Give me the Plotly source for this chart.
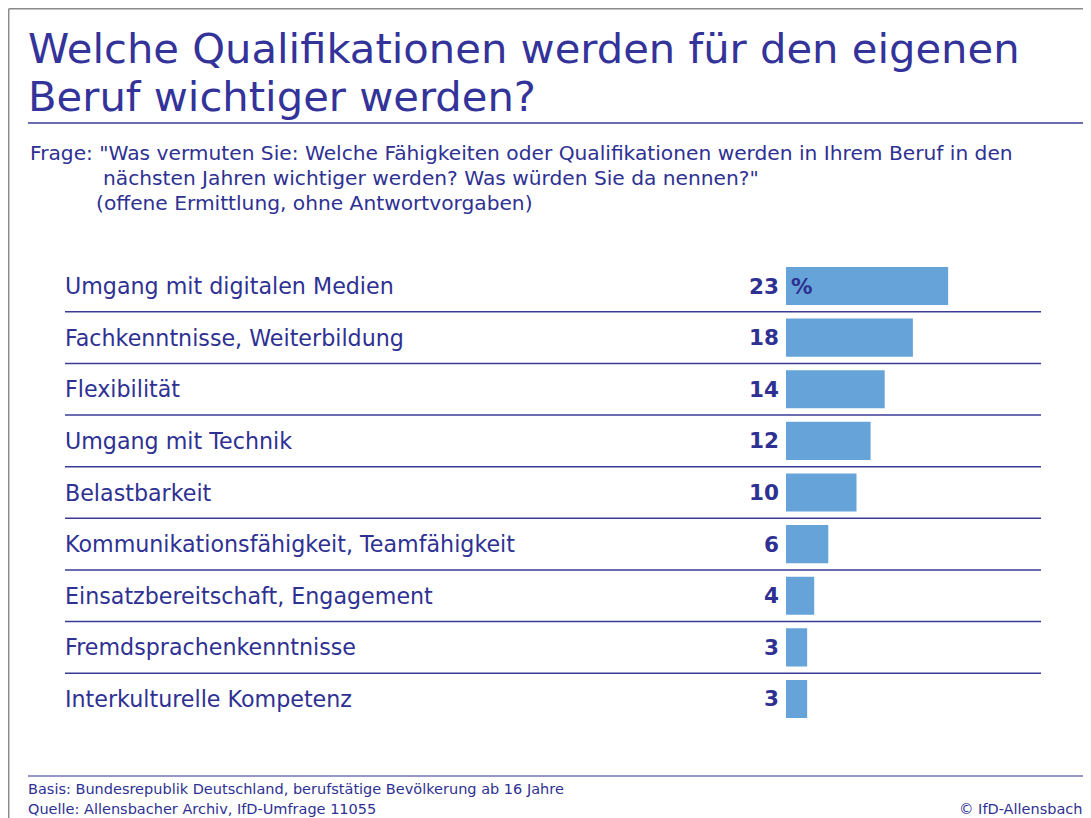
import plotly.graph_objects as go

categories = [
    "Umgang mit digitalen Medien",
    "Fachkenntnisse, Weiterbildung",
    "Flexibilität",
    "Umgang mit Technik",
    "Belastbarkeit",
    "Kommunikationsfähigkeit, Teamfähigkeit",
    "Einsatzbereitschaft, Engagement",
    "Fremdsprachenkenntnisse",
    "Interkulturelle Kompetenz",
]
values = [23, 18, 14, 12, 10, 6, 4, 3, 3]

title_lines = ["Welche Qualifikationen werden für den eigenen", "Beruf wichtiger werden?"]
question_lines = [
    'Frage: "Was vermuten Sie: Welche Fähigkeiten oder Qualifikationen werden in Ihrem Beruf in den',
    'nächsten Jahren wichtiger werden? Was würden Sie da nennen?"',
    '(offene Ermittlung, ohne Antwortvorgaben)',
]
basis = "Basis: Bundesrepublik Deutschland, berufstätige Bevölkerung ab 16 Jahre"
quelle = "Quelle: Allensbacher Archiv, IfD-Umfrage 11055"
copyright_txt = "© IfD-Allensbach"

OFF = 8  # page body margin
W, H = 1091 - OFF, 818 - OFF
TXT = "#2E3192"
BAR = "#65A3D8"
LINE = "#3B3B96"
FONT = "DejaVu Sans"


def px(x):
    return (x - OFF) / W


def py(y):
    return 1 - (y - OFF) / H


fig = go.Figure()
fig.add_trace(go.Bar(
    x=values, y=categories, orientation="h",
    marker=dict(color=BAR, line=dict(width=0)),
    width=0.74, hoverinfo="skip",
))

row_top, row_bot = 260.2, 724.8
x0_px, x1_px = 786, 1041
scale = 7.05

fig.update_layout(
    width=W, height=H,
    margin=dict(l=0, r=0, t=0, b=0),
    paper_bgcolor="white", plot_bgcolor="white",
    showlegend=False,
    font=dict(family=FONT, color=TXT),
    xaxis=dict(domain=[px(x0_px), px(x1_px)], range=[0, (x1_px - x0_px) / scale],
               visible=False, fixedrange=True),
    yaxis=dict(domain=[py(row_bot), py(row_top)], range=[len(categories) - 0.5, -0.5],
               visible=False, fixedrange=True),
)

ann = []
shapes = []

# frame
shapes.append(dict(type="line", xref="paper", yref="paper", x0=px(8.7), x1=1, y0=py(8.7), y1=py(8.7),
                   line=dict(color="#8A8A8A", width=1.5)))
shapes.append(dict(type="line", xref="paper", yref="paper", x0=px(8.7), x1=px(8.7), y0=py(8.7), y1=0,
                   line=dict(color="#8A8A8A", width=1.5)))
# title rule and footer rule
shapes.append(dict(type="line", xref="paper", yref="paper", x0=px(28), x1=1, y0=py(123), y1=py(123),
                   line=dict(color=LINE, width=1.5)))
shapes.append(dict(type="line", xref="paper", yref="paper", x0=px(28), x1=1, y0=py(776), y1=py(776),
                   line=dict(color="#2E3192", width=1.2)))

# title
for i, t in enumerate(title_lines):
    ann.append(dict(text=t, xref="paper", yref="paper", x=px(26), y=py(48 + i * 49),
                    xanchor="left", yanchor="middle", showarrow=False,
                    font=dict(size=41.7, color="#33339A", family=FONT)))

# question
q_x = [28, 101, 94]
for i, t in enumerate(question_lines):
    ann.append(dict(text=t, xref="paper", yref="paper", x=px(q_x[i]), y=py(153 + i * 25),
                    xanchor="left", yanchor="middle", showarrow=False,
                    font=dict(size=20.2, color=TXT, family=FONT)))

# category labels, value labels
for i, (c, v) in enumerate(zip(categories, values)):
    ann.append(dict(text=c, xref="paper", yref="y", x=px(63), y=c,
                    xanchor="left", yanchor="middle", showarrow=False,
                    font=dict(size=22.2, color=TXT, family=FONT)))
    ann.append(dict(text=f"<b>{v}</b>", xref="x", yref="y", x=0, y=c, xshift=-5,
                    xanchor="right", yanchor="middle", showarrow=False,
                    font=dict(size=21.5, color=TXT, family=FONT)))
ann.append(dict(text="<b>%</b>", xref="x", yref="y", x=0, y=categories[0], xshift=3,
                xanchor="left", yanchor="middle", showarrow=False,
                font=dict(size=21.5, color=TXT, family=FONT)))

# row separators
for i in range(len(categories) - 1):
    shapes.append(dict(type="line", xref="paper", yref="y", x0=px(65), x1=px(1041),
                       y0=i + 0.5, y1=i + 0.5, line=dict(color=LINE, width=1.5)))

# footer
ann.append(dict(text=basis, xref="paper", yref="paper", x=px(26), y=py(789),
                xanchor="left", yanchor="middle", showarrow=False,
                font=dict(size=14.5, color=TXT, family=FONT)))
ann.append(dict(text=quelle, xref="paper", yref="paper", x=px(26), y=py(809),
                xanchor="left", yanchor="middle", showarrow=False,
                font=dict(size=14.5, color=TXT, family=FONT)))
ann.append(dict(text=copyright_txt, xref="paper", yref="paper", x=px(1084), y=py(809),
                xanchor="right", yanchor="middle", showarrow=False,
                font=dict(size=14.5, color=TXT, family=FONT)))

fig.update_layout(annotations=ann, shapes=shapes)
fig.write_html("out.html")
